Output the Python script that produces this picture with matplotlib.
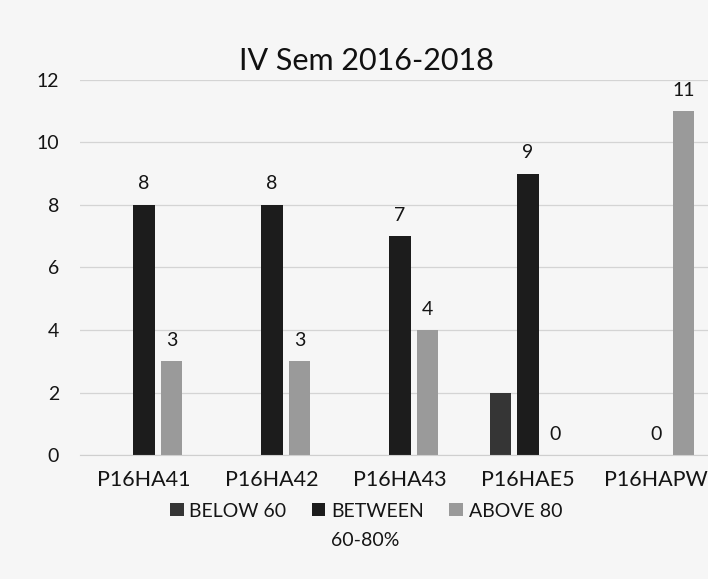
import numpy as np
import matplotlib
matplotlib.use('Agg')
import matplotlib.pyplot as plt

plt.rcParams['font.family'] = ['Lato', 'DejaVu Sans']

courses = ['P16HA41', 'P16HA42', 'P16HA43', 'P16HAE5', 'P16HAPW']
below_60 = [0, 0, 0, 2, 0]
between_60_80 = [8, 8, 7, 9, 0]
above_80 = [3, 3, 4, 0, 11]
series_names = ['BELOW 60', 'BETWEEN\n60-80%', 'ABOVE 80']
colors = ['#353535', '#1c1c1c', '#9a9a9a']

fig = plt.figure(figsize=(7.08, 5.79), dpi=100, facecolor='#f6f6f6')
ax = fig.add_axes([80 / 708, 0.214, 640 / 708, 0.648])
ax.set_facecolor('#f6f6f6')

x = np.arange(len(courses))
width = 0.17
offset = 0.215
bars = []
for i, (vals, name, c) in enumerate(zip([below_60, between_60_80, above_80],
                                        series_names, colors)):
    b = ax.bar(x + (i - 1) * offset, vals, width, color=c, label=name)
    bars.append(b)

# only the last two series carry data labels
for b in bars[1:]:
    ax.bar_label(b, padding=9, fontsize=14, color='#151515')

ax.set_xlim(-0.5, len(courses) - 0.5)
ax.set_ylim(0, 12)
ax.set_yticks(range(0, 13, 2))
ax.yaxis.grid(True, color='#d4d4d4', linewidth=0.9)
ax.set_axisbelow(True)
for s in ['top', 'right', 'left']:
    ax.spines[s].set_visible(False)
ax.spines['bottom'].set_color('#cfcfcf')
ax.tick_params(axis='y', length=0, labelsize=14, pad=15, labelcolor='#151515')
ax.tick_params(axis='x', length=0, labelsize=15.5, pad=11, labelcolor='#151515')
ax.set_xticks(x)
ax.set_xticklabels(courses)

fig.text(0.517, 0.895, 'IV Sem 2016-2018', ha='center', va='center',
         fontsize=22, color='#111111')

leg = fig.legend(loc='upper center', bbox_to_anchor=(0.517, 0.162), ncol=3,
                 frameon=False, fontsize=14, handlelength=0.7, handleheight=0.7,
                 handletextpad=0.3, columnspacing=1.3, labelcolor='#151515')
# put the square markers on the first text line, as in the printed chart
leg._legend_handle_box.align = 'top'
for col in leg._legend_handle_box.get_children():
    for row in col.get_children():
        row.align = 'top'
for t in leg.get_texts():
    t.set_linespacing(1.85)

plt.savefig('out.png', dpi=100, facecolor=fig.get_facecolor())
